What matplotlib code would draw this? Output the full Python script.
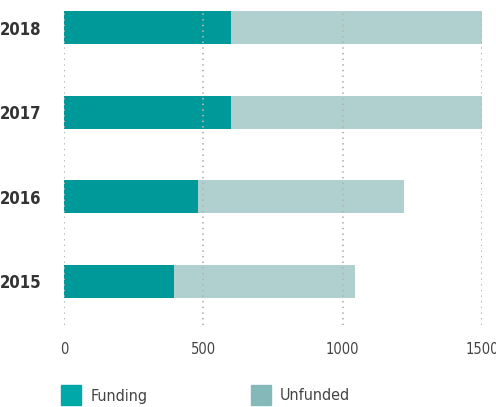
import matplotlib.pyplot as plt
from matplotlib.patches import Rectangle

years = ["2015", "2016", "2017", "2018"]
funding = [395, 480, 600, 600]
total = [1045, 1220, 1500, 1500]
unfunded = [t - f for t, f in zip(total, funding)]
xticks = [0, 500, 1000, 1500]

plt.rcParams['font.family'] = ['DejaVu Sans']
plt.rcParams['font.stretch'] = 'condensed'

fig = plt.figure(figsize=(4.96, 4.07), dpi=100)
ax = fig.add_axes([64/496, 1 - 325/407, (482 - 64)/496, (325 - 11)/407])

pos = range(len(years))
ax.barh(pos, funding, height=0.39, color='#009999', zorder=2)
ax.barh(pos, unfunded, left=funding, height=0.39, color='#b0cfcf', zorder=2)

# dotted grid drawn over the bars
for t in xticks:
    ax.axvline(t, color='#b5b5b5', lw=1.4, ls=(0, (0.7, 2.2)), zorder=3)

ax.set_xlim(0, 1500)
ax.set_ylim(-0.514, 3.195)
ax.set_yticks(list(pos))
ax.set_yticklabels(years, fontsize=12, fontweight='bold', color='#333333')
ax.set_xticks(xticks)
ax.set_xticklabels([str(t) for t in xticks], fontsize=10.5, color='#444444')
ax.tick_params(length=0)
ax.tick_params(axis='x', pad=12)
ax.tick_params(axis='y', pad=16)
for s in ax.spines.values():
    s.set_visible(False)

# legend
W, H = 496, 407
for x0, tx, c, lab in [(61, 91, '#00a8a8', 'Funding'), (251, 280, '#85b9b9', 'Unfunded')]:
    fig.add_artist(Rectangle((x0/W, 1 - 405/H), 20/W, 20/H, color=c, transform=fig.transFigure))
    fig.text(tx/W, 1 - 396/H, lab, fontsize=11.5, color='#444444', va='center', ha='left')

fig.savefig('out.png', dpi=100)
